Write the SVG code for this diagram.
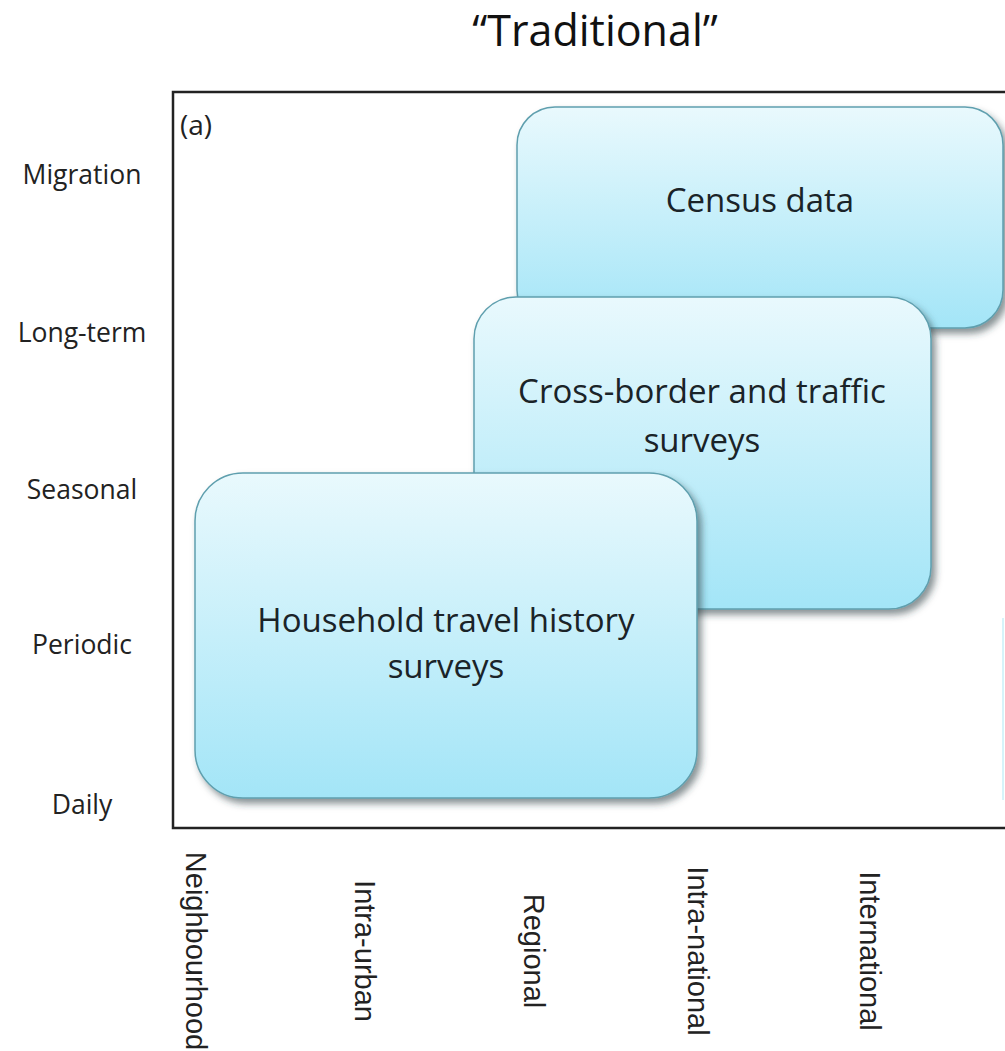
<svg xmlns="http://www.w3.org/2000/svg" width="1005" height="1051" viewBox="0 0 1005 1051">
  <defs>
    <linearGradient id="boxGrad" x1="0" y1="0" x2="0" y2="1">
      <stop offset="0" stop-color="#e9f9fd"/>
      <stop offset="1" stop-color="#a3e5f7"/>
    </linearGradient>
    <filter id="shadow" x="-10%" y="-10%" width="130%" height="130%">
      <feDropShadow dx="4" dy="5" stdDeviation="3.5" flood-color="#2a3a40" flood-opacity="0.55"/>
    </filter>
  </defs>
  <style>
    .box { fill: url(#boxGrad); stroke: #5f9fae; stroke-width: 1.5; filter: url(#shadow); }
    .boxtxt { font-family: "Open Sans", "Noto Sans", sans-serif; font-size: 33px; fill: #1a2328; text-anchor: middle; }
    .ylab { font-family: "Open Sans", "Noto Sans", sans-serif; font-size: 26.5px; fill: #222; text-anchor: middle; }
    .xlab { font-family: "Liberation Sans", Arial, sans-serif; font-size: 29px; fill: #222; text-anchor: middle; }
    .title { font-family: "Open Sans", "Noto Sans", sans-serif; font-size: 43px; fill: #111; text-anchor: middle; }
  </style>
  <rect width="1005" height="1051" fill="#ffffff"/>

  <text class="title" x="595" y="46">“Traditional”</text>

  <g id="frame">
    <rect x="173" y="92" width="900" height="736" fill="#ffffff" stroke="#222" stroke-width="2.5"/>
    <text x="180" y="135" font-family="'Open Sans', 'Noto Sans', sans-serif" font-size="28" fill="#222">(a)</text>
    <rect x="1002" y="618" width="2" height="182" fill="#d6f3fa"/>
  </g>

  <g id="y-axis">
    <text class="ylab" x="82" y="184">Migration</text>
    <text class="ylab" x="82" y="342">Long-term</text>
    <text class="ylab" x="82" y="499">Seasonal</text>
    <text class="ylab" x="82" y="654">Periodic</text>
    <text class="ylab" x="82" y="814">Daily</text>
  </g>

  <g id="x-axis">
    <text class="xlab" transform="translate(186,951) rotate(90)">Neighbourhood</text>
    <text class="xlab" transform="translate(355,951) rotate(90)">Intra-urban</text>
    <text class="xlab" transform="translate(524,951) rotate(90)">Regional</text>
    <text class="xlab" transform="translate(688,951) rotate(90)">Intra-national</text>
    <text class="xlab" transform="translate(860,951) rotate(90)">International</text>
  </g>

  <g id="connectors"></g>

  <g id="census">
    <rect class="box" x="517" y="107" width="486" height="221" rx="38" ry="38"/>
    <text class="boxtxt" x="760" y="212">Census data</text>
  </g>

  <g id="cross-border">
    <rect class="box" x="474" y="297" width="457" height="312" rx="42" ry="42"/>
    <text class="boxtxt" x="702" y="403">Cross-border and traffic</text>
    <text class="boxtxt" x="702" y="452">surveys</text>
  </g>

  <g id="household">
    <rect class="box" x="195" y="473" width="502" height="325" rx="48" ry="48"/>
    <text class="boxtxt" x="446" y="632">Household travel history</text>
    <text class="boxtxt" x="446" y="678">surveys</text>
  </g>
</svg>
